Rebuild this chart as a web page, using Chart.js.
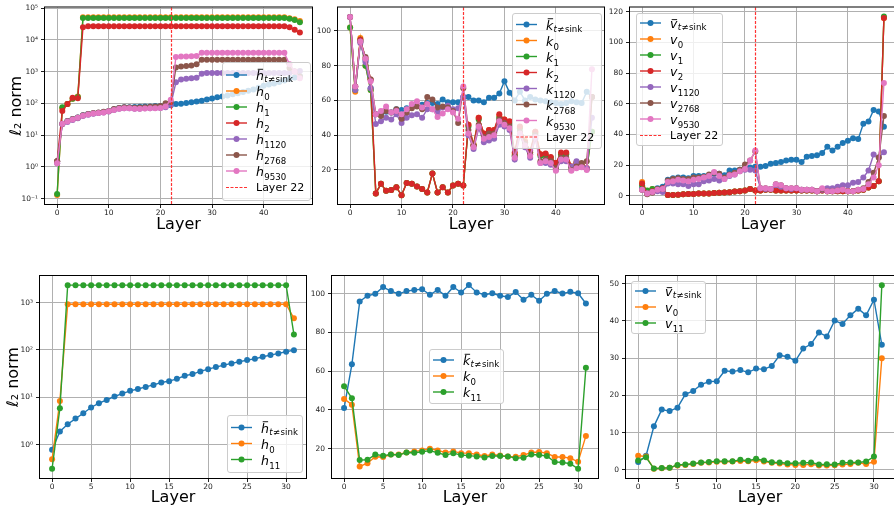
<!DOCTYPE html>
<html>
<head>
<meta charset="utf-8">
<script src="https://cdn.jsdelivr.net/npm/chart.js@4.4.1/dist/chart.umd.min.js"></script>
<style>
html, body { margin: 0; padding: 0; background: #fff; overflow: hidden; }
#wrap { position: relative; width: 894px; height: 508px; overflow: hidden; }
#wrap canvas { position: absolute; }
</style>
</head>
<body>
<div id="wrap"></div>
<script>
// ---- data ----
const layersTop = [0, 1, 2, 3, 4, 5, 6, 7, 8, 9, 10, 11, 12, 13, 14, 15, 16, 17, 18, 19, 20, 21, 22, 23,
    24, 25, 26, 27, 28, 29, 30, 31, 32, 33, 34, 35, 36, 37, 38, 39, 40, 41, 42, 43, 44, 45, 46, 47];
const layersBottom = [0, 1, 2, 3, 4, 5, 6, 7, 8, 9, 10, 11, 12, 13, 14, 15, 16, 17, 18, 19, 20, 21, 22, 23,
    24, 25, 26, 27, 28, 29, 30, 31];
const markerLayer = 22;

const xTicksTop = [0, 10, 20, 30, 40];
const xTicksBottom = [0, 5, 10, 15, 20, 25, 30];
const hTicksTop = [0.1, 1, 10, 100, 1000, 10000, 100000];
const kTicksTop = [20, 40, 60, 80, 100];
const vTicksTop = [0, 20, 40, 60, 80, 100, 120];
const hTicksBottom = [1, 10, 100, 1000];
const kTicksBottom = [20, 40, 60, 80, 100];
const vTicksBottom = [0, 10, 20, 30, 40, 50];

// top row: hidden states
const hBarTop = [1.5, 23, 28, 32, 36, 42, 46, 49, 51, 53, 57, 65, 72, 76, 76, 77, 78, 79, 80, 82,
    83, 85, 88, 95, 98, 102, 108, 115, 122, 132, 142, 155, 165, 178, 192, 210, 230, 250, 275, 310,
    360, 390, 420, 470, 530, 590, 650, 720];
const h0Top = [0.13, 70, 95, 140, 165, 52000, 52000, 52000, 52000, 52000, 52000, 52000, 52000, 52000,
    52000, 52000, 52000, 52000, 52000, 52000, 52000, 52000, 52000, 52000, 52000, 52000, 52000, 52000,
    52000, 52000, 52000, 52000, 52000, 52000, 52000, 52000, 52000, 52000, 52000, 52000, 52000, 52000,
    52000, 52000, 52000, 48000, 45000, 39000];
const h1Top = [0.14, 75, 95, 140, 160, 49000, 49000, 49000, 49000, 49000, 49000, 49000, 49000, 49000,
    49000, 49000, 49000, 49000, 49000, 49000, 49000, 49000, 49000, 49000, 49000, 49000, 49000, 49000,
    49000, 49000, 49000, 49000, 49000, 49000, 49000, 49000, 49000, 49000, 49000, 49000, 49000, 49000,
    49000, 49000, 49000, 46000, 42000, 36000];
const h2Top = [1.5, 58, 95, 150, 145, 25000, 27000, 27000, 27000, 27000, 27000, 27000, 27000, 27000,
    27000, 27000, 27000, 27000, 27000, 27000, 27000, 27000, 27000, 27000, 27000, 27000, 27000, 27000,
    27000, 27000, 27000, 27000, 27000, 27000, 27000, 27000, 27000, 27000, 27000, 27000, 27000, 27000,
    27000, 27000, 27000, 25000, 21000, 17000];
const h1120Top = [1.3, 22, 26, 30, 34, 40, 44, 47, 50, 52, 55, 62, 68, 70, 70, 68, 68, 70, 70, 72,
    72, 75, 90, 460, 560, 600, 620, 640, 850, 910, 910, 910, 910, 910, 910, 910, 910, 910, 910, 910,
    910, 910, 910, 910, 910, 900, 1000, 1050];
const h2768Top = [1.5, 23, 28, 32, 36, 42, 46, 50, 52, 54, 58, 66, 72, 75, 74, 73, 74, 76, 78, 80,
    82, 100, 110, 1350, 1450, 1500, 1550, 1700, 2350, 2350, 2350, 2350, 2350, 2350, 2350, 2350, 2350,
    2350, 2350, 2350, 2350, 2350, 2350, 2350, 2350, 1300, 1000, 700];
const h9530Top = [1.3, 23, 27, 31, 35, 41, 45, 48, 50, 52, 56, 62, 68, 70, 70, 68, 68, 69, 70, 70,
    72, 80, 130, 2900, 3000, 3000, 3050, 3100, 3900, 3900, 3900, 3900, 3900, 3900, 3900, 3900, 3900,
    3900, 3900, 3900, 3900, 3900, 3900, 3900, 3900, 1700, 1000, 620];

// top row: keys
const kBarTop = [108, 66, 94, 83, 67, 52, 52, 53.5, 53, 55, 54.5, 55.5, 56.5, 57, 57.5, 58.5, 58.5, 58, 60.5, 59,
    59, 59, 62, 62, 60, 60, 59, 61.5, 61.5, 64, 71, 64.5, 60, 65, 60, 62, 60.5, 60, 59.5, 59,
    58.5, 58, 58.5, 59.5, 59, 58.5, 65, 62];
const k0Top = [102, 65, 96, 80, 66, 6.5, 12, 8, 8.5, 10, 5.5, 12.5, 12, 10.5, 9, 7, 18, 7, 10, 7,
    11, 12, 11, 46, 35, 50, 41, 43, 43, 51, 49, 47, 29, 44.5, 37, 30, 42, 29, 29, 27,
    24, 29, 29.5, 22, 24.5, 23, 21, 42];
const k1Top = [102, 66, 95, 80, 66, 6.5, 12, 8, 8.5, 10, 5.5, 12.5, 12, 10.5, 9, 7, 18, 7, 10, 7,
    11, 12, 11, 45, 34, 49, 40, 42, 42, 50, 48, 46, 28, 44, 36, 30, 41, 28, 28.5, 27,
    23.5, 29, 29, 21.5, 23.5, 22.5, 20.5, 42];
const k2Top = [108, 68, 95, 84, 72, 6.5, 12, 8, 8.5, 10, 5.5, 12.5, 12, 10.5, 9, 7, 18, 7, 10, 7,
    11, 12, 11, 46, 34, 50, 41, 43, 43, 52, 49, 48, 30, 45, 36, 31, 42, 29, 29.5, 27.5,
    24, 30, 30, 22, 24, 23, 21, 62];
const k1120Top = [108, 66, 93, 82, 67, 46.5, 48, 50, 49, 52, 47, 50, 51.5, 52, 50, 55, 55, 53, 56, 57,
    55, 55.5, 62, 40, 32, 44, 36, 37, 38, 46, 45, 43, 26, 40, 33, 27, 38, 24, 24, 23,
    20, 25, 25, 22, 25, 22, 21, 50];
const k2768Top = [108, 68, 94, 85, 72, 52, 51, 54, 53, 55, 49.5, 53, 55.5, 56.5, 55, 62, 60.5, 56, 56.5, 56,
    54, 47, 67, 43, 34, 46, 39, 41, 41, 49, 47, 45, 28, 42, 35, 29, 40, 25, 26, 25,
    21, 27, 27, 20, 22, 24, 25, 62];
const k9530Top = [108, 68, 94, 84, 71, 52, 54, 56.5, 53, 54, 52, 55, 58, 59.5, 56, 58, 55, 50.5, 52.5, 55,
    53, 49.5, 68, 41, 33, 45, 38, 39, 40, 48, 46, 44, 27, 41, 34, 28, 39, 24, 25, 24,
    19.5, 26, 26, 19.5, 21, 21.5, 20, 78];

// top row: values
const vBarTop = [5, 3, 4, 5, 6, 10.5, 11.5, 12, 12, 11.5, 13, 13, 13, 13.5, 14.5, 14.5, 13.5, 16.5, 16.5, 17,
    18, 18.5, 19, 19, 19.5, 21, 21.5, 22, 23, 23.5, 23.5, 22, 25.5, 26, 26.5, 28, 32, 29.5, 32, 34.5,
    36, 37.5, 37, 47, 48.5, 56, 55, 45];
const v0Top = [9, 3, 4.5, 4, 4.5, 0.5, 0.5, 0.7, 1, 1.2, 1.3, 1.5, 1.5, 1.6, 1.8, 2, 2.2, 2.4, 2.8, 3,
    3.5, 4.5, 3.5, 3.5, 4, 4, 3.5, 3.5, 3.5, 3.5, 3.5, 3.5, 3.5, 3.5, 3, 3.5, 3, 3, 3, 3,
    3, 3, 3.5, 4, 5.5, 6.5, 9.5, 116];
const v1Top = [7, 3.5, 4.5, 3.5, 4, 0.5, 0.5, 0.7, 1, 1.2, 1.3, 1.5, 1.5, 1.6, 1.8, 2, 2.2, 2.4, 2.8, 3,
    3.5, 4.5, 3.5, 3.5, 4, 4, 3.5, 3.5, 3.5, 3.5, 3.5, 3.5, 3.5, 3.5, 3, 3.5, 3, 3, 3, 3,
    3, 3, 3.5, 4, 5.5, 6.5, 9.5, 117];
const v2Top = [8, 1.5, 3, 4, 5, 0.5, 0.5, 0.7, 1, 1.2, 1.3, 1.5, 1.5, 1.6, 1.8, 2, 2.2, 2.4, 2.8, 3,
    3.5, 4.5, 3.5, 3.5, 4, 4, 3.5, 3.5, 3.5, 3.5, 3.5, 3.5, 3.5, 3.5, 3, 3.5, 3, 3, 3, 3,
    3, 3, 3.5, 4, 5.5, 6.5, 9.5, 116];
const v1120Top = [4, 1.5, 2.5, 3, 2.5, 8, 8, 7.5, 7.5, 6.5, 7.5, 7.5, 9.5, 10, 11, 10, 11, 13, 14, 16,
    17, 17, 16.5, 5, 4.5, 4.5, 7, 6, 5, 4.5, 5, 4, 4, 4, 3, 4, 5, 5, 6, 7,
    7, 8.5, 9, 12, 16.5, 27, 25, 28.5];
const v2768Top = [4, 1, 2, 4.5, 4.5, 10, 11, 11.5, 11, 11, 12, 12, 12.5, 14, 15, 14.5, 12, 14, 15, 17,
    20.5, 23, 29, 5, 5, 4.5, 7.5, 7, 5, 5, 5, 4, 4, 4, 3, 4.5, 3, 3, 3.5, 4,
    3, 3, 4, 5, 9, 15, 25, 52];
const v9530Top = [4, 1.5, 2.5, 4, 4.5, 9, 9.5, 10.5, 10, 9.5, 10.5, 11, 12, 13, 15.5, 13, 11, 13.5, 14, 16,
    17.5, 23, 29.5, 5, 5, 4.5, 7.5, 7, 5, 5, 5, 4, 4, 4, 3, 5, 3, 3, 3.5, 4,
    3, 3, 4, 4.5, 7.5, 12, 20, 73.5];

// bottom row
const hBarBottom = [0.78, 1.9, 2.7, 3.55, 4.6, 6.1, 7.5, 8.8, 10.4, 12, 13.7, 15, 16.6, 18.3, 20.5, 21.9,
    24.6, 28.5, 30.9, 35.2, 39.3, 43.4, 47.9, 51.9, 56.2, 61.1, 65, 71.8, 77.8, 84.5, 91.6, 99];
const h0Bottom = [0.49, 8.4, 922, 922, 922, 922, 922, 922, 922, 922, 922, 922, 922, 922, 922, 922,
    922, 922, 922, 922, 922, 922, 922, 922, 922, 922, 922, 922, 922, 922, 922, 464];
const h11Bottom = [0.31, 5.9, 2330, 2330, 2330, 2330, 2330, 2330, 2330, 2330, 2330, 2330, 2330, 2330, 2330, 2330,
    2330, 2330, 2330, 2330, 2330, 2330, 2330, 2330, 2330, 2330, 2330, 2330, 2330, 2330, 2330, 213];
const kBarBottom = [41, 63.6, 96, 99, 100, 103.5, 101.4, 100, 101.4, 102, 102.4, 99.5, 102, 99, 103.5, 100.7,
    104.5, 100.7, 99.5, 100.3, 99, 98.4, 100.9, 96.9, 99.5, 96.4, 100, 101.4, 100.2, 101, 100.3, 95];
const k0Bottom = [45.7, 42.7, 10.8, 12.5, 15.8, 15.7, 17, 17, 18, 18.6, 19.1, 20, 19.1, 18, 18.6, 17.7,
    17.7, 17, 16.2, 17, 16.5, 16, 15.8, 16.7, 18, 18.3, 17.7, 15.7, 15.7, 15.1, 13.2, 26.6];
const k11Bottom = [52.3, 46, 14.1, 14.3, 17, 16.4, 17, 16.7, 18, 17.9, 18.4, 19, 17.9, 16.7, 17.7, 16.7,
    16.4, 16, 15.5, 16.2, 16.2, 16, 15.1, 15.3, 17, 16.7, 16.2, 13.1, 12.9, 12.2, 9.6, 61.8];
const vBarBottom = [2.1, 3.8, 11.7, 16.2, 15.8, 16.7, 20.3, 21.2, 22.9, 23.7, 23.8, 26.6, 26.4, 26.8, 26.2, 27.2,
    27, 27.9, 30.8, 30.4, 29.3, 32.6, 33.8, 36.9, 35.8, 40.1, 39.2, 41.5, 43.3, 41.5, 45.7, 33.6];
const v0Bottom = [3.8, 3.6, 0.3, 0.45, 0.6, 1.2, 1.35, 1.6, 1.9, 2, 2.2, 2.2, 2.25, 2.4, 2.3, 2.6,
    2.25, 1.9, 1.7, 1.45, 1.35, 1.35, 1.5, 1.2, 1.2, 1.25, 1.45, 1.6, 1.9, 1.6, 2.2, 30];
const v11Bottom = [2.5, 3.4, 0.35, 0.5, 0.6, 1.35, 1.45, 1.7, 2, 2.15, 2.35, 2.35, 2.35, 2.7, 2.45, 3,
    2.5, 2.05, 2, 1.8, 1.8, 1.9, 2, 1.45, 1.5, 1.45, 1.9, 2, 2, 2.25, 3.6, 49.6];

// ---- styling ----
const FONT = '"DejaVu Sans"';
const MARK_RED = '#ff3333';
const COLORS = {
    blue: '#1f77b4', orange: '#ff7f0e', green: '#2ca02c', red: '#d62728',
    purple: '#9467bd', brown: '#8c564b', pink: '#e377c2'
};
const SUPER = { '-': '⁻', '0': '⁰', '1': '¹', '2': '²', '3': '³', '4': '⁴', '5': '⁵', '6': '⁶', '7': '⁷', '8': '⁸', '9': '⁹' };

function powLabel(v) {
    const e = Math.round(Math.log10(v));
    return '10' + String(e).split('').map(c => SUPER[c]).join('');
}

// math-ish legend label: italic symbol, optional bar, subscript
function drawMath(ctx, x, base, lab) {
    const s = 12.5, ss = 8.6;
    ctx.fillStyle = '#000';
    ctx.textAlign = 'left';
    ctx.textBaseline = 'alphabetic';
    ctx.font = 'italic ' + s + 'px ' + FONT;
    ctx.fillText(lab.sym, x, base);
    const w = ctx.measureText(lab.sym).width;
    if (lab.bar) {
        const top = lab.sym === 'v' ? base - 8.8 : base - 11.2;
        ctx.fillRect(x + 1.7, top, 5.4, 0.9);
    }
    let sx = x + w + 0.3;
    if (lab.bar) {
        const sb = base + 2;
        ctx.font = 'italic ' + ss + 'px ' + FONT;
        ctx.fillText('t', sx, sb);
        sx += ctx.measureText('t').width + 0.4;
        ctx.font = ss + 'px ' + FONT;
        ctx.fillText('≠', sx, sb);
        sx += ctx.measureText('≠').width + 0.4;
        ctx.fillText('sink', sx, sb);
    } else {
        ctx.font = ss + 'px ' + FONT;
        ctx.fillText(lab.sub, sx, base + 4.2);
    }
}

// red dashed marker, drawn as separate short segments
function dashedLine(ctx, x0, y0, x1, y1) {
    const len = Math.hypot(x1 - x0, y1 - y0);
    const ux = (x1 - x0) / len, uy = (y1 - y0) / len;
    ctx.save();
    ctx.strokeStyle = MARK_RED;
    ctx.lineWidth = 1.2;
    ctx.lineCap = 'butt';
    ctx.beginPath();
    for (let d = 0; d < len; d += 4.5) {
        const e = Math.min(d + 3, len);
        ctx.moveTo(x0 + ux * d, y0 + uy * d);
        ctx.lineTo(x0 + ux * e, y0 + uy * e);
    }
    ctx.stroke();
    ctx.restore();
}

function drawLegend(ctx, lg, series, withMarker) {
    const rows = series.map(s => ({ lab: s.lab, color: s.color }));
    if (withMarker) rows.push({ text: 'Layer ' + markerLayer, dash: true });
    ctx.save();
    ctx.beginPath();
    ctx.roundRect(lg.x + 0.5, lg.y + 0.5, lg.w, lg.h, 2.5);
    ctx.fillStyle = 'rgba(255,255,255,0.8)';
    ctx.fill();
    ctx.strokeStyle = '#cccccc';
    ctx.lineWidth = 1;
    ctx.stroke();
    const pad = (lg.h - (rows.length - 1) * 16) / 2;
    rows.forEach((r, i) => {
        const ry = lg.y + pad + i * 16;
        if (r.dash) {
            dashedLine(ctx, lg.x + 4, ry + 0.5, lg.x + 25, ry + 0.5);
            ctx.fillStyle = '#000';
            ctx.font = '11px ' + FONT;
            ctx.textBaseline = 'alphabetic';
            ctx.fillText(r.text, lg.x + 34, ry + 4);
        } else {
            ctx.strokeStyle = r.color;
            ctx.lineWidth = 1.4;
            ctx.beginPath();
            ctx.moveTo(lg.x + 4, ry);
            ctx.lineTo(lg.x + 25, ry);
            ctx.stroke();
            ctx.fillStyle = r.color;
            ctx.beginPath();
            ctx.arc(lg.x + 14.5, ry, 3, 0, Math.PI * 2);
            ctx.fill();
            drawMath(ctx, lg.x + 34, ry + 5, r.lab);
        }
    });
    ctx.restore();
}

const decor = {
    id: 'decor',
    afterDatasetsDraw(chart, args, opts) {
        const { ctx, chartArea: a } = chart;
        if (opts.marker) {
            const px = Math.round(chart.scales.x.getPixelForValue(markerLayer)) + 0.5;
            dashedLine(ctx, px, a.top, px, a.bottom);
        }
        ctx.save();
        ctx.strokeStyle = '#000';
        ctx.lineWidth = 1;
        ctx.strokeRect(a.left - 0.5, a.top - 0.5, a.right - a.left + 1, a.bottom - a.top + 1);
        ctx.restore();
    },
    afterDraw(chart, args, opts) {
        drawLegend(chart.ctx, opts.legend, opts.series, opts.marker);
    }
};

function makePanel(p) {
    const canvas = document.createElement('canvas');
    canvas.width = p.box.w;
    canvas.height = p.box.h;
    canvas.style.left = p.box.left + 'px';
    canvas.style.top = p.box.top + 'px';
    document.getElementById('wrap').appendChild(canvas);

    const tickFont = { family: FONT, size: 7.5 };
    const titleFont = { family: FONT, size: 16 };
    const grid = { color: '#b0b0b0', lineWidth: 1, tickColor: '#222', tickLength: 4, drawTicks: true };

    new Chart(canvas, {
        type: 'line',
        data: {
            labels: p.layers,
            datasets: p.series.map((s, i) => ({
                data: s.data,
                borderColor: s.color,
                backgroundColor: s.color,
                pointBackgroundColor: s.color,
                borderWidth: 1.4,
                pointRadius: 3,
                pointBorderWidth: 0,
                tension: 0,
                order: -i
            }))
        },
        options: {
            responsive: false,
            animation: false,
            events: [],
            layout: {
                padding: {
                    left: 0,
                    top: p.plot.t - p.box.top,
                    right: p.box.left + p.box.w - p.plot.r,
                    bottom: 0
                }
            },
            plugins: {
                legend: { display: false },
                tooltip: { enabled: false },
                decor: {
                    marker: p.marker,
                    series: p.series,
                    legend: {
                        x: p.legend.x - p.box.left, y: p.legend.y - p.box.top,
                        w: p.legend.w, h: p.legend.h
                    }
                }
            },
            scales: {
                x: {
                    type: 'linear',
                    min: p.xMin, max: p.xMax,
                    afterBuildTicks: sc => { sc.ticks = p.xTicks.map(v => ({ value: v })); },
                    afterFit: sc => { sc.height = p.box.top + p.box.h - p.plot.b; },
                    grid: grid,
                    border: { display: false },
                    ticks: { font: tickFont, color: '#222', padding: 1, maxRotation: 0, autoSkip: false },
                    title: { display: true, text: 'Layer', font: titleFont, color: '#000', padding: { top: 0, bottom: p.xTitlePad } }
                },
                y: {
                    type: p.log ? 'logarithmic' : 'linear',
                    min: p.yMin, max: p.yMax,
                    afterBuildTicks: sc => { sc.ticks = p.yTicks.map(v => ({ value: v })); },
                    afterFit: sc => { sc.width = p.plot.l - p.box.left; },
                    grid: grid,
                    border: { display: false },
                    ticks: {
                        font: tickFont, color: '#222', padding: 3, autoSkip: false,
                        callback: v => p.log ? powLabel(v) : String(v)
                    },
                    title: {
                        display: !!p.yTitle, text: p.yTitle || '', font: titleFont, color: '#000',
                        padding: { top: p.yTitlePad || 0, bottom: 0 }
                    }
                }
            }
        },
        plugins: [decor]
    });
}

const lab = (sym, sub, bar) => ({ sym: sym, sub: sub, bar: !!bar });

makePanel({
    box: { left: 0, top: 0, w: 316, h: 240 }, plot: { l: 45, t: 7, r: 313, b: 204 },
    layers: layersTop, xMin: -2.35, xMax: 49.35, xTicks: xTicksTop,
    log: true, yMin: 0.0676, yMax: 104700, yTicks: hTicksTop,
    yTitle: 'ℓ₂ norm', yTitlePad: 7, xTitlePad: 6, marker: true,
    legend: { x: 222, y: 62, w: 88, h: 138 },
    series: [
        { lab: lab('h', '', true), color: COLORS.blue, data: hBarTop },
        { lab: lab('h', '0'), color: COLORS.orange, data: h0Top },
        { lab: lab('h', '1'), color: COLORS.green, data: h1Top },
        { lab: lab('h', '2'), color: COLORS.red, data: h2Top },
        { lab: lab('h', '1120'), color: COLORS.purple, data: h1120Top },
        { lab: lab('h', '2768'), color: COLORS.brown, data: h2768Top },
        { lab: lab('h', '9530'), color: COLORS.pink, data: h9530Top }
    ]
});

makePanel({
    box: { left: 300, top: 0, w: 308, h: 240 }, plot: { l: 338, t: 7, r: 606, b: 204 },
    layers: layersTop, xMin: -2.35, xMax: 49.35, xTicks: xTicksTop,
    log: false, yMin: 0.4, yMax: 113.5, yTicks: kTicksTop,
    xTitlePad: 6, marker: true,
    legend: { x: 512, y: 13, w: 89, h: 135 },
    series: [
        { lab: lab('k', '', true), color: COLORS.blue, data: kBarTop },
        { lab: lab('k', '0'), color: COLORS.orange, data: k0Top },
        { lab: lab('k', '1'), color: COLORS.green, data: k1Top },
        { lab: lab('k', '2'), color: COLORS.red, data: k2Top },
        { lab: lab('k', '1120'), color: COLORS.purple, data: k1120Top },
        { lab: lab('k', '2768'), color: COLORS.brown, data: k2768Top },
        { lab: lab('k', '9530'), color: COLORS.pink, data: k9530Top }
    ]
});

makePanel({
    box: { left: 594, top: 0, w: 306, h: 240 }, plot: { l: 630, t: 7, r: 898, b: 204 },
    layers: layersTop, xMin: -2.35, xMax: 49.35, xTicks: xTicksTop,
    log: false, yMin: -5.3, yMax: 122.8, yTicks: vTicksTop,
    xTitlePad: 6, marker: true,
    legend: { x: 636, y: 13, w: 86, h: 132 },
    series: [
        { lab: lab('v', '', true), color: COLORS.blue, data: vBarTop },
        { lab: lab('v', '0'), color: COLORS.orange, data: v0Top },
        { lab: lab('v', '1'), color: COLORS.green, data: v1Top },
        { lab: lab('v', '2'), color: COLORS.red, data: v2Top },
        { lab: lab('v', '1120'), color: COLORS.purple, data: v1120Top },
        { lab: lab('v', '2768'), color: COLORS.brown, data: v2768Top },
        { lab: lab('v', '9530'), color: COLORS.pink, data: v9530Top }
    ]
});

makePanel({
    box: { left: 0, top: 250, w: 310, h: 258 }, plot: { l: 40, t: 276, r: 308, b: 478 },
    layers: layersBottom, xMin: -1.55, xMax: 32.55, xTicks: xTicksBottom,
    log: true, yMin: 0.198, yMax: 3639, yTicks: hTicksBottom,
    yTitle: 'ℓ₂ norm', yTitlePad: 4, xTitlePad: 1, marker: false,
    legend: { x: 227, y: 415, w: 75, h: 57 },
    series: [
        { lab: lab('h', '', true), color: COLORS.blue, data: hBarBottom },
        { lab: lab('h', '0'), color: COLORS.orange, data: h0Bottom },
        { lab: lab('h', '11'), color: COLORS.green, data: h11Bottom }
    ]
});

makePanel({
    box: { left: 300, top: 250, w: 302, h: 258 }, plot: { l: 332, t: 276, r: 600, b: 478 },
    layers: layersBottom, xMin: -1.55, xMax: 32.55, xTicks: xTicksBottom,
    log: false, yMin: 4.85, yMax: 109.2, yTicks: kTicksBottom,
    xTitlePad: 1, marker: false,
    legend: { x: 429, y: 349, w: 74, h: 54 },
    series: [
        { lab: lab('k', '', true), color: COLORS.blue, data: kBarBottom },
        { lab: lab('k', '0'), color: COLORS.orange, data: k0Bottom },
        { lab: lab('k', '11'), color: COLORS.green, data: k11Bottom }
    ]
});

makePanel({
    box: { left: 594, top: 250, w: 306, h: 258 }, plot: { l: 626, t: 276, r: 894, b: 478 },
    layers: layersBottom, xMin: -1.55, xMax: 32.55, xTicks: xTicksBottom,
    log: false, yMin: -2.17, yMax: 52.07, yTicks: vTicksBottom,
    xTitlePad: 1, marker: false,
    legend: { x: 631, y: 281, w: 74, h: 52 },
    series: [
        { lab: lab('v', '', true), color: COLORS.blue, data: vBarBottom },
        { lab: lab('v', '0'), color: COLORS.orange, data: v0Bottom },
        { lab: lab('v', '11'), color: COLORS.green, data: v11Bottom }
    ]
});
</script>
</body>
</html>
